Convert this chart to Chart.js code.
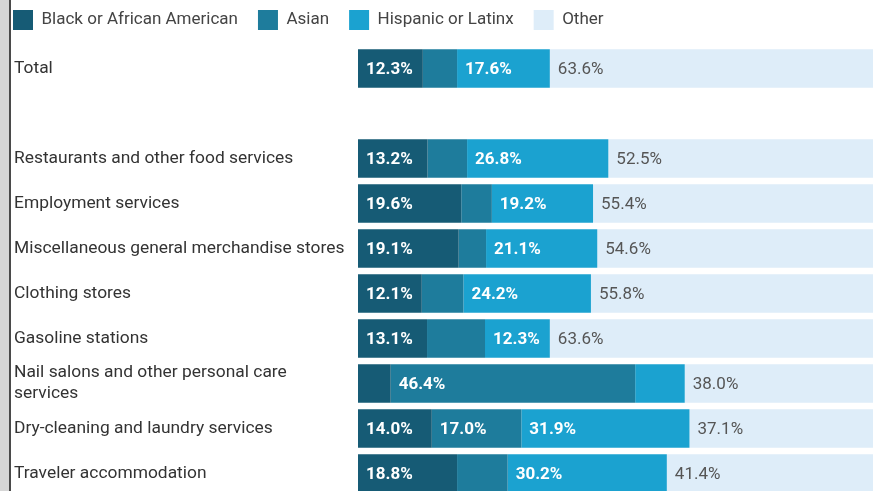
<!DOCTYPE html>
<html>
<head>
<meta charset="utf-8">
<script src="https://cdn.jsdelivr.net/npm/chart.js@4"></script>
<style>
  html, body { margin: 0; padding: 0; background: #fff; overflow: hidden; width: 873px; height: 491px; }
  #wrap { position: absolute; left: 0; top: 0; width: 885px; height: 496px; }
  #band { position: absolute; left: 0; top: 0; width: 9px; height: 491px; background: #d6d6d6; z-index: 2; }
  #line { position: absolute; left: 9px; top: 0; width: 2px; height: 491px; background: #4a4a4a; z-index: 2; }
</style>
</head>
<body>
<div id="wrap"><canvas id="c"></canvas></div>
<div id="band"></div>
<div id="line"></div>
<script>
const categories = [
  'Total',
  '',
  'Restaurants and other food services',
  'Employment services',
  'Miscellaneous general merchandise stores',
  'Clothing stores',
  'Gasoline stations',
  ['Nail salons and other personal care', 'services'],
  'Dry-cleaning and laundry services',
  'Traveler accommodation'
];
const seriesNames = ['Black or African American', 'Asian', 'Hispanic or Latinx', 'Other'];
const blackValues    = [12.3, null, 13.2, 19.6, 19.1, 12.1, 13.1, 6.2, 14.0, 18.8];
const asianValues    = [6.5,  null, 7.5,  5.8,  5.2,  7.9, 11.0, 46.4, 17.0, 9.6];
const hispanicValues = [17.6, null, 26.8, 19.2, 21.1, 24.2, 12.3, 9.4, 31.9, 30.2];
const otherValues    = [63.6, null, 52.5, 55.4, 54.6, 55.8, 63.6, 38.0, 37.1, 41.4];

const colors = ['#165b75', '#1e7c9c', '#1ba2d0', '#deedf9'];
const labelColors = ['#ffffff', '#ffffff', '#ffffff', '#555555'];
const labelWeights = ['bold', 'bold', 'bold', 'normal'];

const valueLabels = {
  id: 'valueLabels',
  afterDatasetsDraw(chart) {
    const ctx = chart.ctx;
    ctx.save();
    ctx.textBaseline = 'middle';
    ctx.textAlign = 'left';
    chart.data.datasets.forEach((ds, di) => {
      const meta = chart.getDatasetMeta(di);
      meta.data.forEach((bar, i) => {
        const v = ds.data[i];
        if (v == null || v < 12) return;
        const left = Math.min(bar.x, bar.base);
        ctx.font = labelWeights[di] + ' 17px Roboto';
        ctx.fillStyle = labelColors[di];
        ctx.fillText(v.toFixed(1) + '%', left + 8, bar.y + 1);
      });
    });
    ctx.restore();
  }
};

const legendShift = {
  id: 'legendShift',
  afterLayout(chart) {
    const l = chart.legend;
    const dx = -21, dy = -6;
    l.left += dx; l.right += dx; l.top += dy; l.bottom += dy;
  }
};

new Chart(document.getElementById('c'), {
  type: 'bar',
  data: {
    labels: categories,
    datasets: [
      { label: seriesNames[0], data: blackValues, backgroundColor: colors[0] },
      { label: seriesNames[1], data: asianValues, backgroundColor: colors[1] },
      { label: seriesNames[2], data: hispanicValues, backgroundColor: colors[2] },
      { label: seriesNames[3], data: otherValues, backgroundColor: colors[3] }
    ]
  },
  options: {
    indexAxis: 'y',
    responsive: true,
    maintainAspectRatio: false,
    animation: false,
    devicePixelRatio: 1,
    datasets: { bar: { categoryPercentage: 1.0, barPercentage: 0.86, borderWidth: 0 } },
    layout: { padding: { left: 14, top: -4, right: 0, bottom: 0 } },
    plugins: {
      legend: {
        display: true,
        position: 'top',
        align: 'start',
        labels: {
          boxWidth: 20,
          boxHeight: 20,
          padding: 20,
          color: '#444',
          font: { family: 'Roboto', size: 17 },
          generateLabels(chart) {
            const items = Chart.defaults.plugins.legend.labels.generateLabels(chart);
            items.forEach(it => { it.lineWidth = 0; });
            return items;
          }
        }
      },
      tooltip: { enabled: false }
    },
    scales: {
      x: {
        stacked: true,
        display: false,
        min: 0,
        max: 100
      },
      y: {
        stacked: true,
        grid: { display: false },
        border: { display: false },
        ticks: {
          crossAlign: 'far',
          color: '#333',
          autoSkip: false,
          font: { family: 'Roboto', size: 17.4, lineHeight: 1.2 }
        },
        afterFit(scale) {
          scale.width = 344;
          scale.paddingTop = 0;
          scale.paddingBottom = 0;
        }
      }
    }
  },
  plugins: [valueLabels, legendShift]
});
</script>
</body>
</html>
